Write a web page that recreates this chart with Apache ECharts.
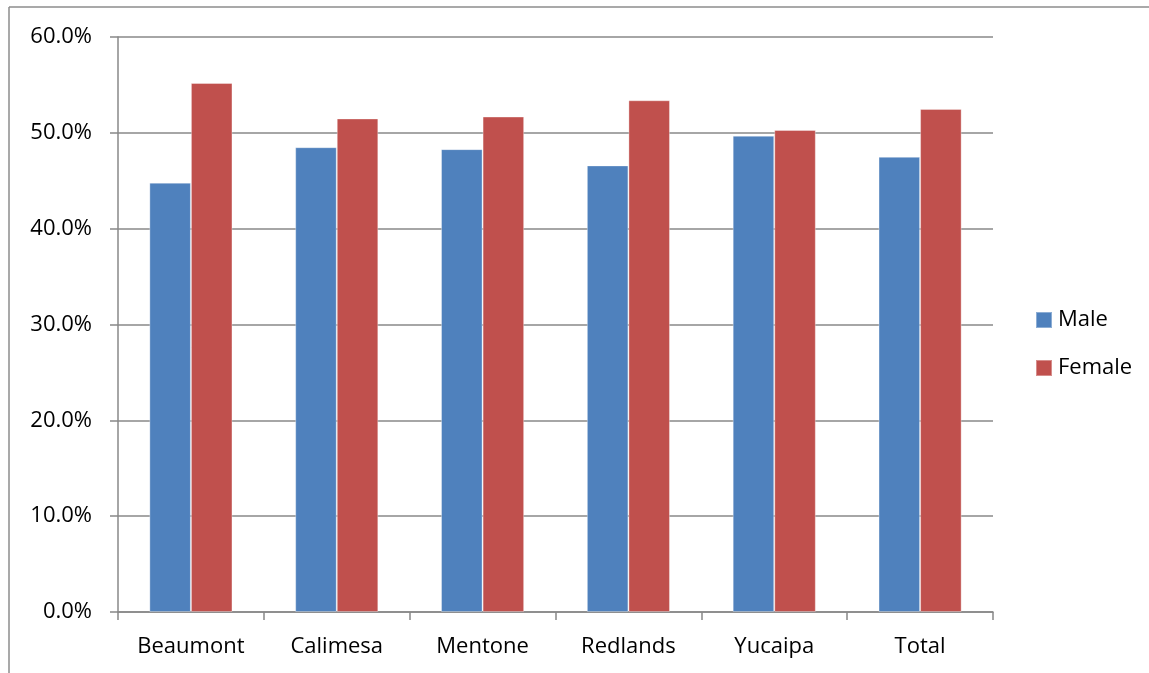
<!DOCTYPE html>
<html>
<head>
<meta charset="utf-8">
<script src="https://cdn.jsdelivr.net/npm/echarts@6/dist/echarts.min.js"></script>
<style>
  html, body { margin: 0; padding: 0; background: #ffffff; }
  #chart { width: 1149px; height: 673px; }
</style>
</head>
<body>
<div id="chart"></div>
<script>
// Share of population by sex in each community
const categories = ['Beaumont', 'Calimesa', 'Mentone', 'Redlands', 'Yucaipa', 'Total'];
const maleValues = [44.8, 48.5, 48.3, 46.6, 49.7, 47.5];
const femaleValues = [55.2, 51.5, 51.7, 53.4, 50.3, 52.5];
const seriesNames = ['Male', 'Female'];
const yTicks = { min: 0, max: 60, interval: 10 };

const FONT = '"Open Sans", "Noto Sans", sans-serif';
const GRAY = '#888888';

const chart = echarts.init(document.getElementById('chart'), null, { renderer: 'canvas' });

chart.setOption({
  backgroundColor: '#ffffff',
  animation: false,
  // chart frame edges along the top and left
  graphic: [
    { type: 'line', shape: { x1: 9, y1: 7, x2: 1149, y2: 7 }, style: { stroke: '#8c8c8c', lineWidth: 1.5 } },
    { type: 'line', shape: { x1: 9, y1: 7, x2: 9, y2: 673 }, style: { stroke: '#8c8c8c', lineWidth: 1.5 } }
  ],
  grid: { left: 118, right: 156, top: 37, bottom: 61, containLabel: false },
  legend: {
    orient: 'vertical',
    left: 1035,
    top: 309,
    padding: 0,
    itemWidth: 16,
    itemHeight: 16,
    itemGap: 26,
    icon: 'rect',
    textStyle: { fontFamily: FONT, fontSize: 22, color: '#000000', padding: [0, 0, 0, 1] },
    data: seriesNames
  },
  xAxis: {
    type: 'category',
    data: categories,
    axisLine: { show: true, lineStyle: { color: GRAY, width: 1.5 } },
    axisTick: { show: true, length: 8, lineStyle: { color: GRAY, width: 1.5 } },
    axisLabel: { fontFamily: FONT, fontSize: 22, color: '#000000', margin: 24 }
  },
  yAxis: {
    type: 'value',
    min: yTicks.min,
    max: yTicks.max,
    interval: yTicks.interval,
    axisLine: { show: true, lineStyle: { color: GRAY, width: 1.5 } },
    axisTick: { show: true, length: 8, lineStyle: { color: GRAY, width: 1.5 } },
    splitLine: { show: true, lineStyle: { color: GRAY, width: 1.5 } },
    axisLabel: {
      fontFamily: FONT, fontSize: 22, color: '#000000', margin: 26,
      formatter: v => v.toFixed(1) + '%'
    }
  },
  series: [
    {
      name: seriesNames[0],
      type: 'bar',
      data: maleValues,
      barWidth: '28.5%',
      barGap: '0%',
      itemStyle: { color: '#4F81BD', borderColor: 'rgba(255,255,255,0.35)', borderWidth: 1 }
    },
    {
      name: seriesNames[1],
      type: 'bar',
      data: femaleValues,
      barWidth: '28.5%',
      barGap: '0%',
      itemStyle: { color: '#C0504D', borderColor: 'rgba(255,255,255,0.35)', borderWidth: 1 }
    }
  ]
});
</script>
</body>
</html>
